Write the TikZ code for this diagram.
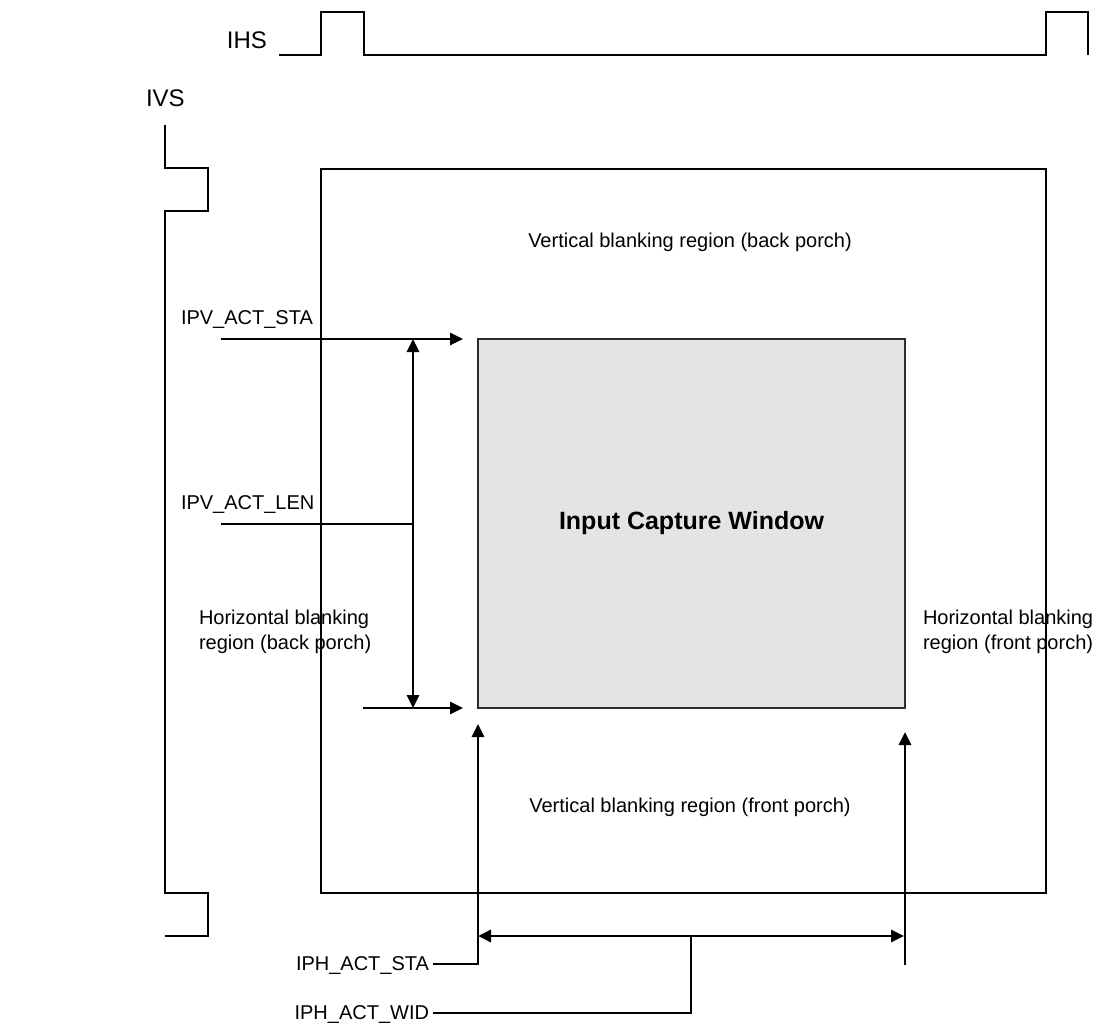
\documentclass[tikz,border=0pt]{standalone}
\usepackage{fontspec}
\setmainfont{Liberation Sans}
\usetikzlibrary{arrows.meta}
\definecolor{winfill}{RGB}{228,228,228}
\definecolor{winedge}{RGB}{45,45,45}

\begin{document}
\begin{tikzpicture}[x=1pt, y=-1pt, line width=2.8pt,
  every node/.style={inner sep=0pt, outer sep=0pt, font=\fontsize{20}{24.5}\selectfont},
  siglabel/.style={font=\fontsize{24}{28}\selectfont},
  region/.style={align=left},
  tip/.style={-{Triangle[length=13pt,width=12pt]}},
  dtip/.style={{Triangle[length=13pt,width=12pt]}-{Triangle[length=13pt,width=12pt]}}]
\useasboundingbox (0,0) rectangle (1097,1026);

% Frame and capture window
\node[draw, minimum width=725pt, minimum height=724pt] (frame) at (683.5,531) {};
\node[draw=winedge, fill=winfill, minimum width=427pt, minimum height=369pt,
  font=\bfseries\fontsize{25}{30}\selectfont] (win) at (691.5,523.5) {Input Capture Window};

% Region texts
\node[anchor=base] (vbp) at (690,247) {Vertical blanking region (back porch)};
\node[anchor=base] (vfp) at (690,812) {Vertical blanking region (front porch)};
\node[region, anchor=base west] (hbp) at (199,649) {Horizontal blanking\\region (back porch)};
\node[region, anchor=base west] (hfp) at (923,649) {Horizontal blanking\\region (front porch)};

% Sync signals
\node[siglabel, anchor=base east] (ihs) at (267,48) {IHS};
\node[siglabel, anchor=base west] (ivs) at (146,106) {IVS};
\coordinate (ihsA) at (279,55);
\coordinate (ivsA) at (165,125);
\draw (ihsA) -- (321,55) -- (321,12) -- (364,12) -- (364,55) -- (1046,55)
  -- (1046,12) -- (1088,12) -- (1088,55);
\draw (ivsA) -- (165,168) -- (208,168) -- (208,211) -- (165,211) -- (165,893)
  -- (208,893) -- (208,936) -- (165,936);

% Vertical settings
\node[anchor=base west] (vsta) at (181,324) {IPV\_ACT\_STA};
\node[anchor=base west] (vlen) at (181,509) {IPV\_ACT\_LEN};
\coordinate (vstaA) at (221,339);
\coordinate (vlenA) at (221,524);
\coordinate (vendA) at (363,708);
\coordinate (lenTop) at (413,339);
\coordinate (lenMid) at (413,524);
\coordinate (lenBot) at (413,708);
\draw[tip] (vstaA) -- ([xshift=-15pt]win.north west);
\draw[tip] (vendA) -- ([xshift=-15pt]win.south west);
\draw[dtip] (lenTop) -- (lenBot);
\draw (vlenA) -- (lenMid);

% Horizontal settings
\node[anchor=base east] (hsta) at (429,970) {IPH\_ACT\_STA};
\node[anchor=base east] (hwid) at (429,1019) {IPH\_ACT\_WID};
\coordinate (hendA) at (905,965);
\coordinate (widL) at (478,936);
\coordinate (widM) at (691,936);
\coordinate (widR) at (904,936);
\draw[tip] ([xshift=4pt,yshift=6pt]hsta.base east) -| ([yshift=-16pt]win.south west);
\draw[tip] (hendA) -- ([yshift=-24pt]win.south east);
\draw[dtip] (widL) -- (widR);
\draw ([xshift=4pt,yshift=6pt]hwid.base east) -| (widM);
\end{tikzpicture}
\end{document}
